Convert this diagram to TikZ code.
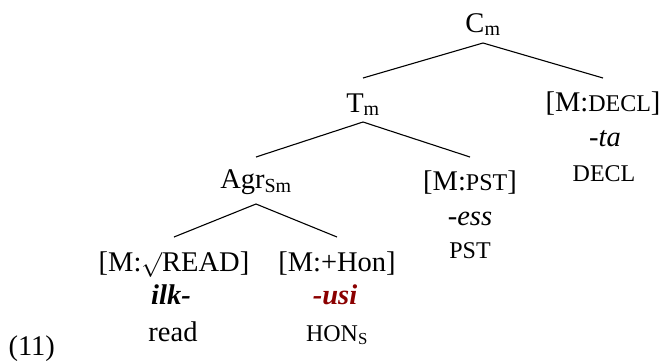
\documentclass[tikz,border=0pt]{standalone}
\usepackage{fontspec}
\setmainfont{Liberation Serif}
\usepackage{xcolor}
\definecolor{hondark}{RGB}{139,0,0}
\newcommand{\fsc}[1]{{\fontsize{24}{28}\selectfont #1}}

\begin{document}
\begin{tikzpicture}[x=1pt,y=-1pt,line width=1.1pt,
  lbl/.style={anchor=base,inner sep=0pt,font=\fontsize{28.5}{34}\selectfont}]
          \useasboundingbox (0,0) rectangle (664,360);

          \node[lbl] (cm) at (483,32) {C\textsubscript{m}};
          \node[lbl] (tm) at (363,112) {T\textsubscript{m}};
          \node[lbl] (agr) at (256,188) {Agr\textsubscript{Sm}};

          \node[lbl] (decl) at (603,111) {[M:\fsc{DECL}]};
          \node[lbl] (ta) at (605,146) {\textit{-ta}};
          \node[lbl] (declgl) at (604,181) {\fsc{DECL}};

          \node[lbl] (pst) at (470,190) {[M:\fsc{PST}]};
          \node[lbl] (ess) at (470,225) {\textit{-ess}};
          \node[lbl] (pstgl) at (470,258) {\fsc{PST}};

          \node[lbl] (read) at (174,271) {[M:$\surd$READ]};
          \node[lbl] (ilk) at (171,304) {\textbf{\textit{ilk-}}};
          \node[lbl] (readgl) at (173,341) {read};

          \node[lbl] (hon) at (337,271) {[M:+Hon]};
          \node[lbl] (usi) at (335,304) {\textcolor{hondark}{\textbf{\textit{-usi}}}};
          \node[lbl] (hongl) at (337,341) {\fsc{HON\textsubscript{S}}};

          \node[lbl,anchor=base west] (ex) at (8,355) {(11)};

          \draw ([yshift=-11pt]cm.base) -- ([yshift=34pt]tm.base);
          \draw ([yshift=-11pt]cm.base) -- ([yshift=33pt]decl.base);
          \draw ([yshift=-10pt]tm.base) -- ([yshift=31pt]agr.base);
          \draw ([yshift=-10pt]tm.base) -- ([yshift=33pt]pst.base);
          \draw ([yshift=-16pt]agr.base) -- ([yshift=34pt]read.base);
          \draw ([yshift=-16pt]agr.base) -- ([yshift=34pt]hon.base);
\end{tikzpicture}
\end{document}
